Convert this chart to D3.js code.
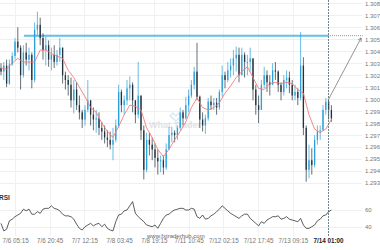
<!DOCTYPE html>
<html>
<head>
<meta charset="utf-8">
<script src="https://cdn.jsdelivr.net/npm/d3@7"></script>
<style>
body { margin: 0; background: #fff; }
text { font-family: "Liberation Sans", Arial, sans-serif; }
</style>
</head>
<body>
<div id="chart"></div>
<script>
// candles (one per 5 bars of 15 min)
var opens = [1.3026,1.3023,1.3028,1.3013,1.3029,1.3036,1.3048,1.3043,1.3020,1.3039,
1.3033,1.3037,1.3016,1.3058,1.3062,1.3051,1.3041,1.3045,1.3033,1.3037,
1.3031,1.3037,1.3043,1.3020,1.3016,1.3012,1.2999,1.3008,1.2995,1.2989,
1.2983,1.2991,1.2999,1.2987,1.2983,1.2984,1.2976,1.2973,1.2968,1.2966,
1.2962,1.2966,1.2978,1.3006,1.2995,1.2999,1.3009,1.3012,1.2999,1.2987,
1.3003,1.2974,1.2941,1.2966,1.2962,1.2958,1.2951,1.2948,1.2949,1.2943,
1.2958,1.2970,1.2972,1.2970,1.2976,1.2989,1.2984,1.2995,1.3003,1.3012,
1.3023,1.3002,1.2983,1.2978,1.2984,1.2998,1.2995,1.2997,1.2993,1.3006,
1.3020,1.3016,1.3024,1.3028,1.3034,1.3037,1.3020,1.3037,1.3031,1.3031,
1.3034,1.3008,1.2995,1.2991,1.3012,1.3020,1.3014,1.3012,1.3024,1.3023,
1.3012,1.3006,1.3016,1.3018,1.3012,1.3003,1.3006,1.3001,1.3028,1.2976,
1.2941,1.2949,1.2945,1.2966,1.2973,1.2974,1.2991,1.2998,1.2991];
var highs = [1.3030,1.3031,1.3033,1.3033,1.3039,1.3051,1.3060,1.3045,1.3045,1.3047,
1.3043,1.3039,1.3064,1.3073,1.3068,1.3055,1.3052,1.3049,1.3043,1.3045,
1.3041,1.3051,1.3043,1.3023,1.3020,1.3018,1.3016,1.3014,1.3003,1.2991,
1.2995,1.3016,1.2999,1.2993,1.2991,1.2989,1.2981,1.2978,1.2974,1.2973,
1.2976,1.2983,1.3012,1.3008,1.3003,1.3016,1.3019,1.3014,1.2999,1.3031,
1.3003,1.2978,1.2972,1.2972,1.2968,1.2963,1.2958,1.2953,1.2953,1.2963,
1.2977,1.2977,1.2974,1.2978,1.2993,1.2991,1.3002,1.3008,1.3016,1.3027,
1.3047,1.3003,1.2989,1.2987,1.3001,1.3003,1.3001,1.3001,1.3008,1.3028,
1.3023,1.3031,1.3034,1.3041,1.3044,1.3043,1.3043,1.3039,1.3037,1.3043,
1.3034,1.3012,1.3003,1.3016,1.3027,1.3024,1.3020,1.3030,1.3031,1.3024,
1.3014,1.3020,1.3024,1.3023,1.3016,1.3012,1.3009,1.3056,1.3035,1.2978,
1.2962,1.2959,1.2970,1.2978,1.2978,1.2995,1.3001,1.2999,1.2995];
var lows = [1.3020,1.3016,1.3010,1.3012,1.3028,1.3033,1.3039,1.3008,1.3018,1.3028,
1.3024,1.3009,1.3014,1.3053,1.3045,1.3033,1.3028,1.3027,1.3024,1.3026,
1.3028,1.3031,1.3013,1.3008,1.3003,1.2993,1.2988,1.2991,1.2983,1.2976,
1.2978,1.2989,1.2978,1.2974,1.2972,1.2970,1.2966,1.2963,1.2960,1.2958,
1.2949,1.2964,1.2976,1.2989,1.2987,1.2995,1.2999,1.2989,1.2980,1.2984,
1.2966,1.2933,1.2939,1.2953,1.2949,1.2943,1.2937,1.2939,1.2937,1.2941,
1.2958,1.2964,1.2964,1.2966,1.2974,1.2978,1.2983,1.2989,1.3001,1.3008,
1.2999,1.2976,1.2973,1.2971,1.2982,1.2991,1.2991,1.2987,1.2991,1.3002,
1.3009,1.3014,1.3018,1.3020,1.3023,1.3014,1.3020,1.3018,1.3020,1.3023,
1.2999,1.2987,1.2980,1.2991,1.3009,1.3006,1.3003,1.3012,1.3016,1.3006,
1.2999,1.3003,1.3009,1.3005,1.2999,1.2999,1.2995,1.2999,1.2970,1.2931,
1.2934,1.2937,1.2943,1.2962,1.2966,1.2974,1.2987,1.2983,1.2981];
var closes = [1.3023,1.3028,1.3013,1.3029,1.3036,1.3048,1.3043,1.3020,1.3039,1.3033,
1.3037,1.3016,1.3058,1.3062,1.3051,1.3041,1.3045,1.3033,1.3037,1.3031,
1.3037,1.3043,1.3020,1.3016,1.3012,1.2999,1.3008,1.2995,1.2989,1.2983,
1.2991,1.2999,1.2987,1.2983,1.2984,1.2976,1.2973,1.2968,1.2966,1.2962,
1.2966,1.2978,1.3006,1.2995,1.2999,1.3009,1.3012,1.2999,1.2987,1.3003,
1.2974,1.2941,1.2966,1.2962,1.2958,1.2951,1.2948,1.2949,1.2943,1.2958,
1.2970,1.2972,1.2970,1.2976,1.2989,1.2984,1.2995,1.3003,1.3012,1.3023,
1.3002,1.2983,1.2978,1.2984,1.2998,1.2995,1.2997,1.2993,1.3006,1.3020,
1.3016,1.3024,1.3028,1.3034,1.3037,1.3020,1.3037,1.3031,1.3031,1.3034,
1.3008,1.2995,1.2991,1.3012,1.3020,1.3014,1.3012,1.3024,1.3023,1.3012,
1.3006,1.3016,1.3018,1.3012,1.3003,1.3006,1.3001,1.3028,1.2976,1.2941,
1.2949,1.2945,1.2966,1.2973,1.2974,1.2991,1.2998,1.2991,1.2984];

// moving average, read every 2nd candle
var ma = [1.3026,1.3025,1.3030,1.3034,1.3031,1.3031,1.3031,1.3041,1.3041,1.3038,
1.3036,1.3034,1.3024,1.3018,1.3010,1.3002,1.2993,1.2989,1.2980,1.2973,
1.2968,1.2977,1.2987,1.2995,1.2994,1.2991,1.2976,1.2968,1.2958,1.2952,
1.2958,1.2966,1.2973,1.2981,1.2993,1.3001,1.2993,1.2991,1.2993,1.2997,
1.3005,1.3011,1.3018,1.3023,1.3027,1.3018,1.3009,1.3008,1.3013,1.3014,
1.3013,1.3014,1.3013,1.3008,1.3005,1.2987,1.2975,1.2972,1.2975,1.2983];

var rsi = [44,35,37,47,49,52,54,56,61,59,
61,55,55,58,56,61,62,62,65,62,
61,59,55,53,53,52,49,43,38,36,
40,42,44,41,43,44,40,43,38,36,
35,46,54,55,59,60,65,70,56,52,
49,46,42,41,40,42,38,44,50,54,
55,58,60,61,62,62,60,60,62,61,
52,50,54,49,50,53,55,58,61,65,
62,59,56,54,52,50,53,55,55,50,
47,44,41,46,44,48,50,52,52,53,
49,50,52,49,48,47,46,50,42,38,
38,40,42,47,49,53,54,58,60];

var timeTicks = [5, 17.4, 29.8, 42.2, 54.6, 67, 79.4, 91.8, 104.2, 116.8];
var timeLabels = ["7/6 05:15","7/6 20:45","7/7 12:15","7/8 03:45","7/8 19:15",
  "7/11 10:45","7/12 02:15","7/12 17:45","7/13 09:15","7/14 01:00"];
var priceTicks = [1.293,1.294,1.295,1.296,1.297,1.298,1.299,1.300,1.301,1.302,1.303,1.304,1.305,1.306,1.307,1.308];
var rsiTicks = [40, 60];

var level = 1.3053, levelStart = 8.2, nowIdx = 116.8, targetIdx = 129.2;
var arrowFrom = [116.8, 1.2999], arrowTo = [128.6, 1.3051];

var width = 380, height = 250;
var svg = d3.select("#chart").append("svg").attr("width", width).attr("height", height);

var x = d3.scaleLinear().domain([0, 118]).range([1, 331.4]);
var y = d3.scaleLinear().domain([1.293, 1.308]).range([183, 3.3]);
var yr = d3.scaleLinear().domain([40, 60]).range([226.7, 210]);

// grid
svg.append("g").selectAll("line").data(priceTicks).enter().append("line")
  .attr("x1", 0).attr("x2", 362)
  .attr("y1", function(d){ return Math.round(y(d)) + 0.5; })
  .attr("y2", function(d){ return Math.round(y(d)) + 0.5; })
  .attr("stroke", "#efefef").attr("stroke-width", 1);
svg.append("g").selectAll("line").data(rsiTicks).enter().append("line")
  .attr("x1", 0).attr("x2", 362)
  .attr("y1", function(d){ return Math.round(yr(d)) + 0.5; })
  .attr("y2", function(d){ return Math.round(yr(d)) + 0.5; })
  .attr("stroke", "#efefef");
svg.append("g").selectAll("line").data(timeTicks.slice(0, 9)).enter().append("line")
  .attr("x1", function(d){ return Math.round(x(d)) + 0.5; })
  .attr("x2", function(d){ return Math.round(x(d)) + 0.5; })
  .attr("y1", 0).attr("y2", 236)
  .attr("stroke", "#f1f1f1");

// watermark
var wm = svg.append("g").attr("opacity", 0.5);
wm.append("path").attr("d", "M170,116 l3,-3 l3,3 l3,-3 l3,3 l-6,5 z")
  .attr("fill", "none").attr("stroke", "#9fd3ee").attr("stroke-width", 1.2);
wm.append("text").attr("x", 149).attr("y", 128).text("What Trader")
  .attr("font-size", 9).attr("font-weight", "bold").attr("fill", "#c8c8c8");

// price axis labels
var ay = svg.append("g").attr("transform", "translate(365,0)")
  .call(d3.axisRight(y).tickValues(priceTicks).tickFormat(d3.format(".3f")).tickSize(0).tickPadding(0));
ay.select(".domain").remove();
ay.selectAll("text").attr("font-size", 6).attr("fill", "#777").style("font-family", "Liberation Sans, Arial, sans-serif");

var ar = svg.append("g").attr("transform", "translate(365,0)")
  .call(d3.axisRight(yr).tickValues(rsiTicks).tickSize(0).tickPadding(0));
ar.select(".domain").remove();
ar.selectAll("text").attr("font-size", 6).attr("fill", "#777").style("font-family", "Liberation Sans, Arial, sans-serif");

// time axis
var ax = svg.append("g").attr("transform", "translate(0,239)")
  .call(d3.axisBottom(x).tickValues(timeTicks)
    .tickFormat(function(d, i){ return timeLabels[i]; }).tickSize(0).tickPadding(0));
ax.select(".domain").remove();
ax.selectAll("text").attr("font-size", 6.3).attr("fill", function(d, i){ return i === 9 ? "#222" : "#777"; })
  .attr("font-weight", function(d, i){ return i === 9 ? "bold" : "normal"; })
  .style("font-family", "Liberation Sans, Arial, sans-serif");

// level line
svg.append("line")
  .attr("x1", x(levelStart)).attr("x2", x(nowIdx))
  .attr("y1", y(level)).attr("y2", y(level))
  .attr("stroke", "#5bc0ea").attr("stroke-width", 2);
svg.append("line")
  .attr("x1", x(nowIdx)).attr("x2", x(targetIdx))
  .attr("y1", y(level)).attr("y2", y(level))
  .attr("stroke", "#999").attr("stroke-width", 1).attr("stroke-dasharray", "1,1");

// candles
var idx = d3.range(closes.length);
var cw = 1.3;
function col(i){ return closes[i] >= opens[i] ? "#2b9fd9" : "#22323d"; }
svg.append("g").selectAll("line").data(idx).enter().append("line")
  .attr("x1", function(i){ return x(i); }).attr("x2", function(i){ return x(i); })
  .attr("y1", function(i){ return y(highs[i]); }).attr("y2", function(i){ return y(lows[i]); })
  .attr("stroke", col).attr("stroke-width", 0.7);
svg.append("g").selectAll("rect").data(idx).enter().append("rect")
  .attr("x", function(i){ return x(i) - cw / 2; })
  .attr("width", cw)
  .attr("y", function(i){ return y(Math.max(opens[i], closes[i])); })
  .attr("height", function(i){ return Math.max(0.8, Math.abs(y(opens[i]) - y(closes[i]))); })
  .attr("fill", col);

// moving average
var maLine = d3.line().x(function(d, j){ return x(j * 2); }).y(function(d){ return y(d); });
svg.append("path").datum(ma).attr("d", maLine)
  .attr("fill", "none").attr("stroke", "#f47a7a").attr("stroke-width", 0.9);

// now line
svg.append("line")
  .attr("x1", Math.round(x(nowIdx)) + 0.5).attr("x2", Math.round(x(nowIdx)) + 0.5)
  .attr("y1", 0).attr("y2", 236)
  .attr("stroke", "#4a6670").attr("stroke-width", 0.8).attr("stroke-dasharray", "2,1");

// arrow
svg.append("defs").append("marker").attr("id", "ah")
  .attr("viewBox", "0 0 10 10").attr("refX", 9).attr("refY", 5)
  .attr("markerWidth", 5).attr("markerHeight", 5).attr("orient", "auto")
  .append("path").attr("d", "M0,0 L10,5 L0,10").attr("fill", "none").attr("stroke", "#666").attr("stroke-width", 1.5);
svg.append("line")
  .attr("x1", x(arrowFrom[0])).attr("y1", y(arrowFrom[1]))
  .attr("x2", x(arrowTo[0])).attr("y2", y(arrowTo[1]))
  .attr("stroke", "#777").attr("stroke-width", 0.8).attr("marker-end", "url(#ah)");

// RSI
var rsiLine = d3.line().x(function(d, i){ return x(i); }).y(function(d){ return yr(d); });
svg.append("path").datum(rsi).attr("d", rsiLine)
  .attr("fill", "none").attr("stroke", "#333").attr("stroke-width", 0.8);
svg.append("text").attr("x", -1).attr("y", 200).text("RSI")
  .attr("font-size", 6.5).attr("font-weight", "bold").attr("fill", "#333");

svg.append("text").attr("x", 147).attr("y", 238).text("www.fxtraderhub.com")
  .attr("font-size", 6).attr("fill", "#666");
</script>
</body>
</html>
